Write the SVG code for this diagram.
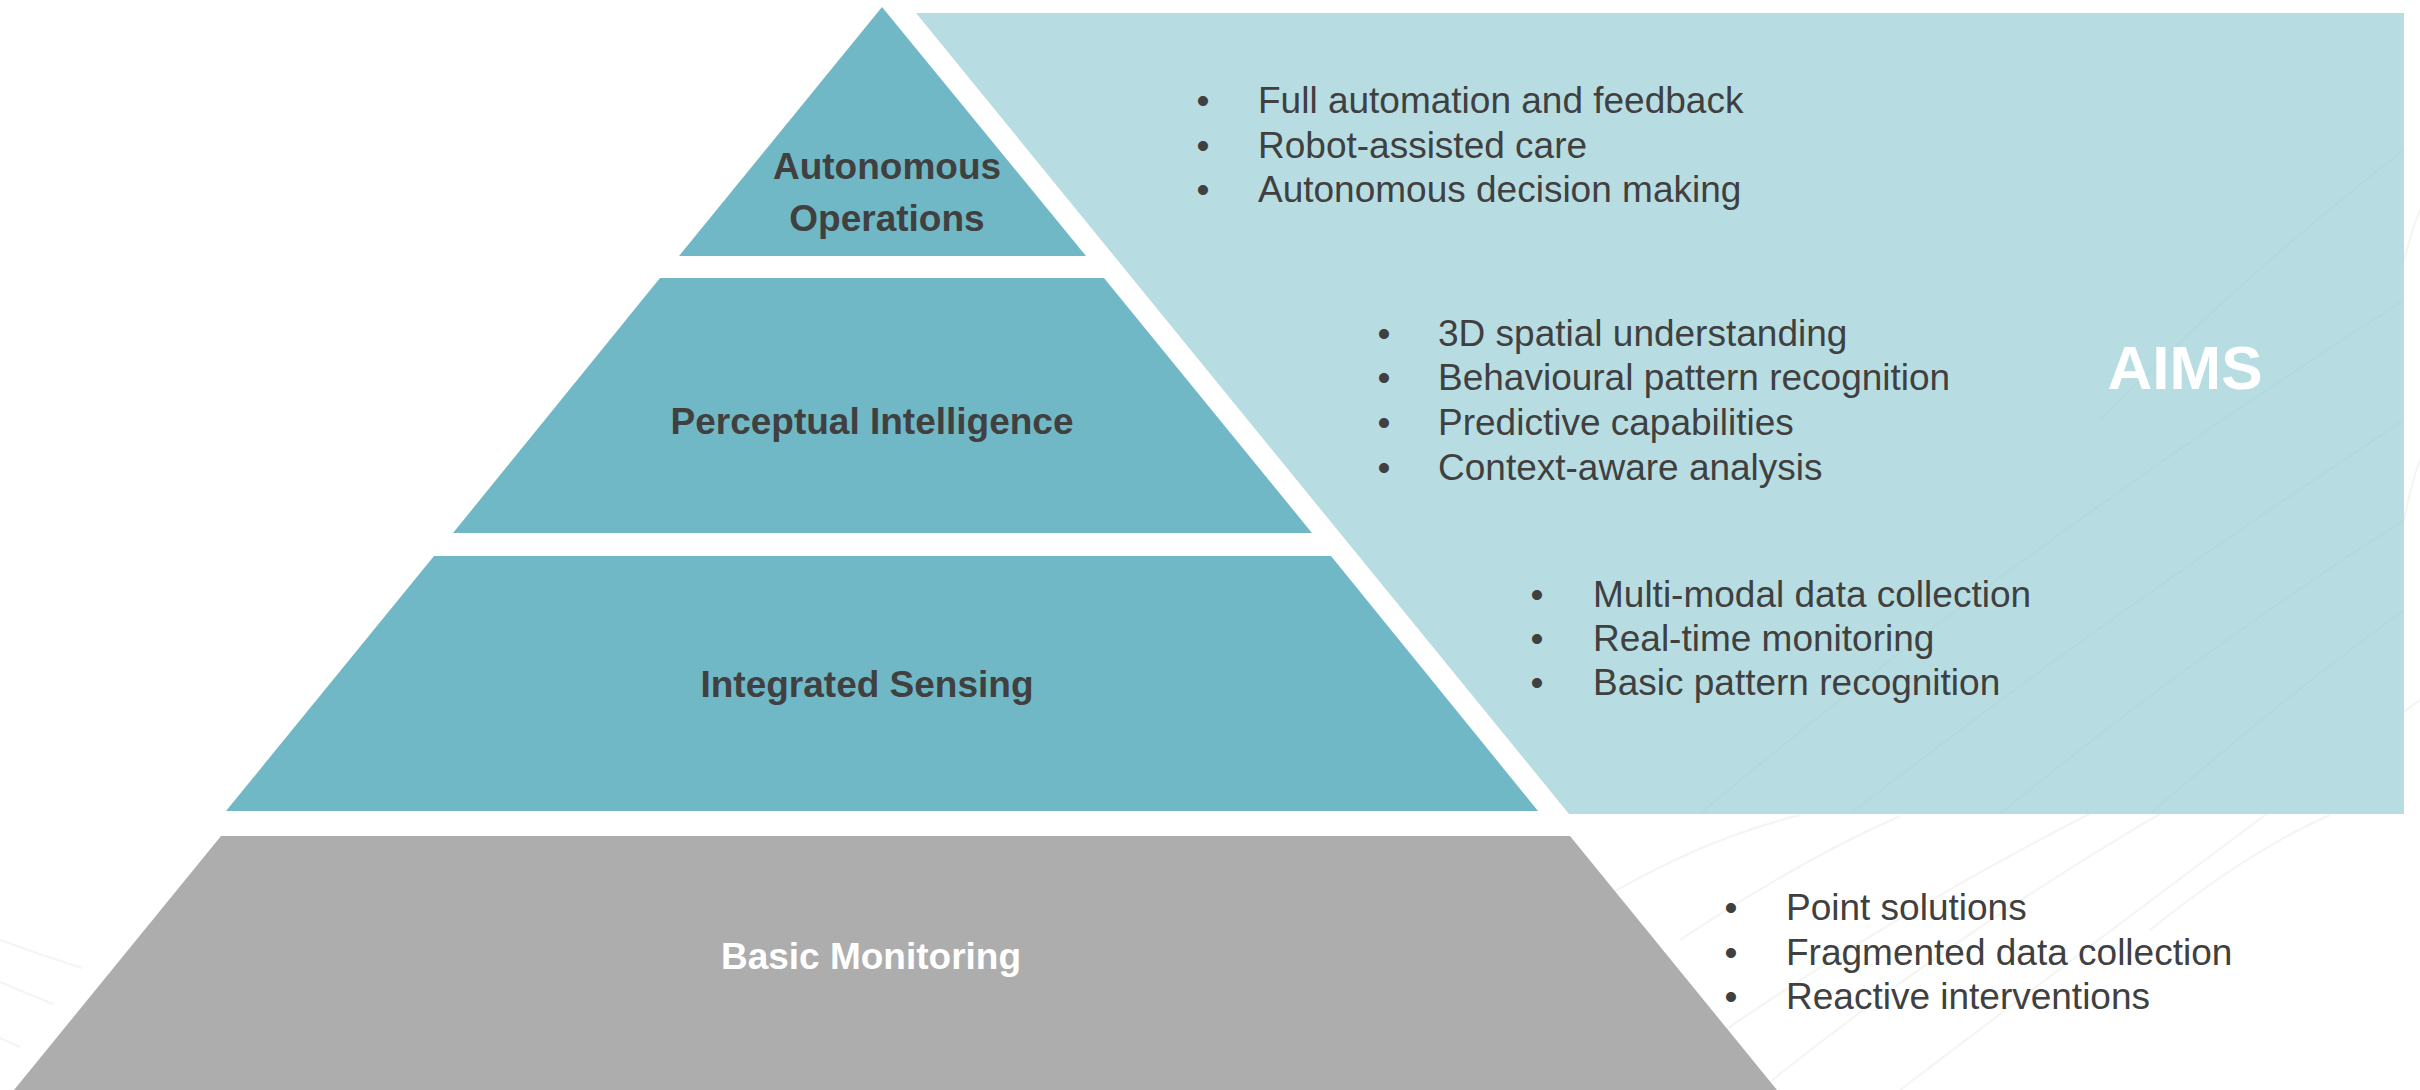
<svg xmlns="http://www.w3.org/2000/svg" width="2420" height="1090" viewBox="0 0 2420 1090">
  <defs>
    <style>
      .lbl { font-family: "Liberation Sans", Arial, sans-serif; font-weight: bold; font-size: 37px; fill: #404040; text-anchor: middle; }
      .lbl-w { fill: #ffffff; }
      .item { font-family: "Liberation Sans", Arial, sans-serif; font-size: 37px; fill: #404040; }
      .bul { font-family: "Liberation Sans", Arial, sans-serif; font-size: 37px; fill: #404040; text-anchor: middle; }
      .teal { fill: #71b8c6; }
      .gray { fill: #adadad; }
      .panel { fill: #b7dde2; }
      .deco { fill: none; stroke: #e9e9e4; stroke-width: 2; opacity: 0.5; }
      .deco-p { fill: none; stroke: #a9d2d8; stroke-width: 1.5; opacity: 0.35; }
    </style>
    <clipPath id="panelClip">
      <polygon points="916,13 2404,13 2404,814 1569,814"/>
    </clipPath>
  </defs>

  <rect x="0" y="0" width="2420" height="1090" fill="#ffffff"/>

  <!-- faint decorative background lines -->
  <g id="decor">
    <path class="deco" d="M1640,1090 Q1900,900 2200,760"/>
    <path class="deco" d="M1760,1090 Q2020,880 2330,720"/>
    <path class="deco" d="M1600,900 Q1700,840 1800,815"/>
    <path class="deco" d="M1680,940 Q1800,860 1900,816"/>
    <path class="deco" d="M1900,1090 Q2150,900 2420,700"/>
    <path class="deco" d="M2150,930 Q2250,850 2330,815"/>
    <path class="deco" d="M2404,520 Q2412,480 2420,460"/>
    <path class="deco" d="M2404,260 Q2412,230 2420,210"/>
    <path class="deco" d="M0,940 Q40,955 82,968"/>
    <path class="deco" d="M0,982 Q28,994 53,1004"/>
    <path class="deco" d="M0,1038 Q10,1043 20,1047"/>
  </g>

  <g id="aims-panel">
    <polygon class="panel" points="916,13 2404,13 2404,814 1569,814"/>
    <g clip-path="url(#panelClip)">
      <path class="deco-p" d="M1850,814 Q2100,620 2404,420"/>
      <path class="deco-p" d="M2000,814 Q2200,650 2404,520"/>
      <path class="deco-p" d="M2150,814 Q2280,700 2404,610"/>
      <path class="deco-p" d="M1700,814 Q2000,560 2404,300"/>
      <path class="deco-p" d="M2100,420 Q2260,260 2404,150"/>
    </g>
    <text x="2185" y="389" font-family="'Liberation Sans', Arial, sans-serif" font-weight="bold" font-size="62" fill="#ffffff" text-anchor="middle">AIMS</text>
  </g>

  <g id="autonomous-operations">
    <polygon class="teal" points="882,7 1086,256 679,256"/>
    <text class="lbl" x="887" y="179">Autonomous</text>
    <text class="lbl" x="887" y="231">Operations</text>
  </g>

  <g id="perceptual-intelligence">
    <polygon class="teal" points="660,278 1104,278 1312,533 453,533"/>
    <text class="lbl" x="872" y="434">Perceptual Intelligence</text>
  </g>

  <g id="integrated-sensing">
    <polygon class="teal" points="434,556 1331,556 1538,811 226,811"/>
    <text class="lbl" x="867" y="697">Integrated Sensing</text>
  </g>

  <g id="basic-monitoring">
    <polygon class="gray" points="221,836 1570,836 1777,1090 14,1090"/>
    <text class="lbl lbl-w" x="871" y="969">Basic Monitoring</text>
  </g>

  <g id="list-autonomous">
    <text class="bul" x="1203" y="113">•</text>
    <text class="item" x="1258" y="113">Full automation and feedback</text>
    <text class="bul" x="1203" y="158">•</text>
    <text class="item" x="1258" y="158">Robot-assisted care</text>
    <text class="bul" x="1203" y="202">•</text>
    <text class="item" x="1258" y="202">Autonomous decision making</text>
  </g>

  <g id="list-perceptual">
    <text class="bul" x="1384" y="346">•</text>
    <text class="item" x="1438" y="346">3D spatial understanding</text>
    <text class="bul" x="1384" y="390">•</text>
    <text class="item" x="1438" y="390">Behavioural pattern recognition</text>
    <text class="bul" x="1384" y="435">•</text>
    <text class="item" x="1438" y="435">Predictive capabilities</text>
    <text class="bul" x="1384" y="480">•</text>
    <text class="item" x="1438" y="480">Context-aware analysis</text>
  </g>

  <g id="list-integrated">
    <text class="bul" x="1537" y="607">•</text>
    <text class="item" x="1593" y="607">Multi-modal data collection</text>
    <text class="bul" x="1537" y="651">•</text>
    <text class="item" x="1593" y="651">Real-time monitoring</text>
    <text class="bul" x="1537" y="695">•</text>
    <text class="item" x="1593" y="695">Basic pattern recognition</text>
  </g>

  <g id="list-basic">
    <text class="bul" x="1731" y="920">•</text>
    <text class="item" x="1786" y="920">Point solutions</text>
    <text class="bul" x="1731" y="965">•</text>
    <text class="item" x="1786" y="965">Fragmented data collection</text>
    <text class="bul" x="1731" y="1009">•</text>
    <text class="item" x="1786" y="1009">Reactive interventions</text>
  </g>

  <g id="connectors"/>
</svg>
